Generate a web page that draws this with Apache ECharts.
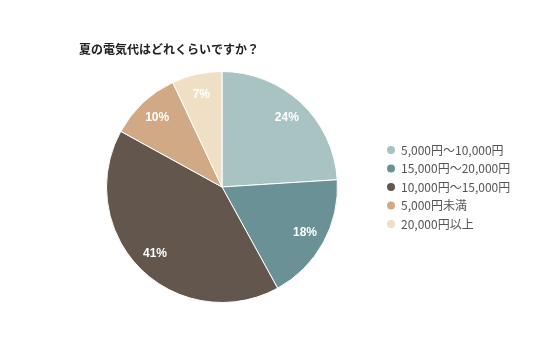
<!DOCTYPE html>
<html><head><meta charset="utf-8">
<script src="https://cdn.jsdelivr.net/npm/echarts@6/dist/echarts.min.js"></script>
<style>html,body{margin:0;padding:0;background:#fff}#c{width:536px;height:357px}</style>
</head><body><div id="c"></div>
<script>
const title = '夏の電気代はどれくらいですか？';
const categories = ['5,000円～10,000円','15,000円～20,000円','10,000円～15,000円','5,000円未満','20,000円以上'];
const values = [24, 18, 41, 10, 7];
const colors = ['#a9c3c3','#6a9195','#62564d','#d1a985','#eedfc5'];

const chart = echarts.init(document.getElementById('c'));
const font = '"Noto Sans CJK JP","Noto Sans",sans-serif';
const baseData = categories.map((n,i)=>({name:n,value:values[i],itemStyle:{color:colors[i]}}));
chart.setOption({
  animation:false,
  title:{text:title,left:74,top:38,textStyle:{fontSize:12,fontWeight:'bold',color:'#222',fontFamily:font}},
  legend:{orient:'vertical',left:380,top:139,itemWidth:10,itemHeight:10,itemGap:6.5,icon:'circle',
    textStyle:{fontSize:12,color:'#555',fontFamily:font},data:categories},
  series:[
    {type:'pie',center:[222,187],radius:[0,115.5],startAngle:90,clockwise:true,
     label:{show:false},labelLine:{show:false},
     itemStyle:{borderColor:'#fff',borderWidth:1},data:baseData},
    {type:'pie',center:[222,187],radius:[68,115.5],startAngle:90,clockwise:true,silent:true,
     legendHoverLink:false,
     label:{show:true,position:'inside',formatter:'{c}%',color:'#fff',fontSize:12,fontWeight:'bold',fontFamily:'Arial,"Liberation Sans",sans-serif'},
     labelLine:{show:false},
     itemStyle:{color:'rgba(0,0,0,0)',borderWidth:0},
     data:categories.map((n,i)=>({name:n,value:values[i]}))}
  ]
});
</script></body></html>
